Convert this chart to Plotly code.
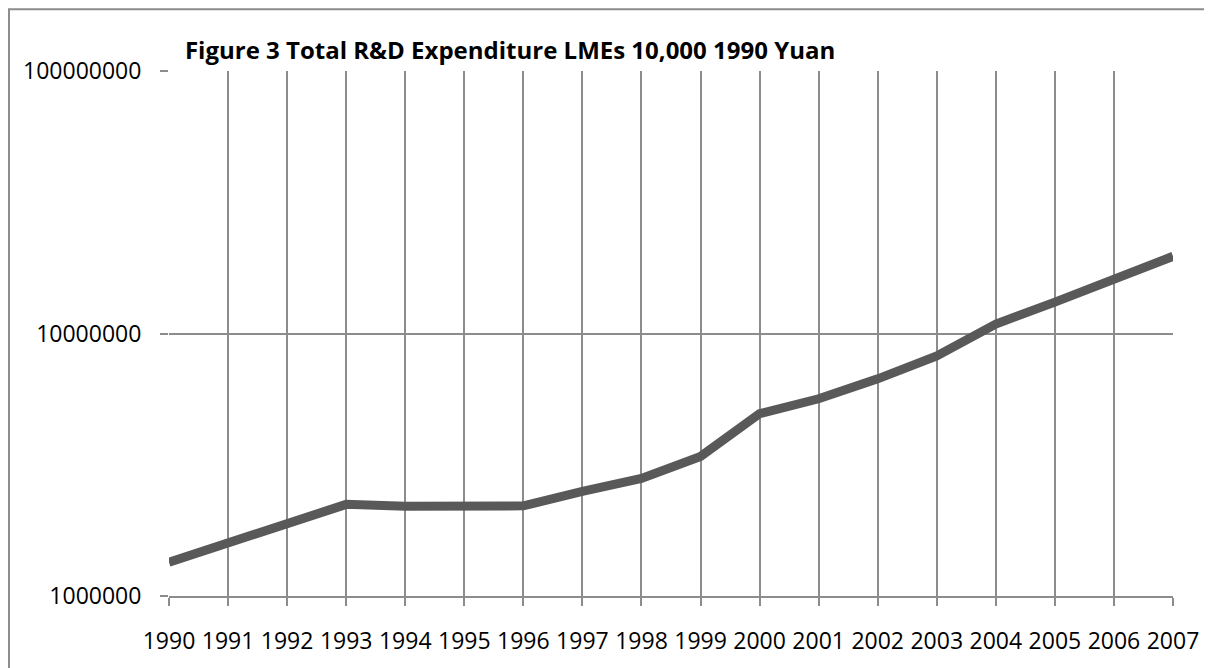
import plotly.graph_objects as go

# ==========================================
# DATOS
# ==========================================

anios = [str(a) for a in range(1990, 2008)]

gasto_id = [
    1.346e6, 1.589e6, 1.877e6, 2.234e6, 2.196e6, 2.215e6,
    2.205e6, 2.502e6, 2.804e6, 3.40e6, 4.95e6, 5.64e6,
    6.72e6, 8.22e6, 1.087e7, 1.317e7, 1.61e7, 1.968e7,
]

marcas_y = [1e6, 1e7, 1e8]
etiquetas_y = ["1000000", "10000000", "100000000"]

GRIS = "#8c8c8c"

# ==========================================
# FIGURA
# ==========================================

fig = go.Figure()

fig.add_trace(
    go.Scatter(
        x=anios,
        y=gasto_id,
        mode="lines",
        line=dict(color="#595959", width=9),
        showlegend=False
    )
)

# marco exterior del gráfico
fig.add_shape(
    type="rect",
    xref="paper", yref="paper",
    x0=-0.1594, x1=1.06,
    y0=-0.2, y1=1.1176,
    line=dict(color=GRIS, width=2),
    layer="below"
)

fig.update_layout(
    width=1204,
    height=660,
    margin=dict(l=161, r=39, t=63, b=70),
    paper_bgcolor="white",
    plot_bgcolor="white",
    font=dict(family="Open Sans", size=23, color="black"),
    title=dict(
        text="<b>Figure 3 Total R&D Expenditure LMEs 10,000 1990 Yuan</b>",
        x=0.417, xanchor="center",
        y=0.936, yanchor="middle",
        font=dict(family="Open Sans", size=24, color="black")
    )
)

fig.update_xaxes(
    type="category",
    range=[0, 17],
    showgrid=True,
    gridcolor=GRIS,
    gridwidth=2,
    showline=True,
    linecolor=GRIS,
    linewidth=2,
    ticks="outside",
    ticklen=8,
    tickwidth=2,
    tickcolor=GRIS,
    tickfont=dict(size=23),
    ticklabelstandoff=15
)

fig.update_yaxes(
    type="log",
    range=[6, 8],
    tickvals=marcas_y,
    ticktext=etiquetas_y,
    showgrid=True,
    gridcolor=GRIS,
    gridwidth=2,
    showline=False,
    zeroline=False,
    ticks="outside",
    ticklen=8,
    tickwidth=2,
    tickcolor=GRIS,
    tickfont=dict(size=23),
    ticklabelstandoff=14
)

fig.write_html("out.html")
